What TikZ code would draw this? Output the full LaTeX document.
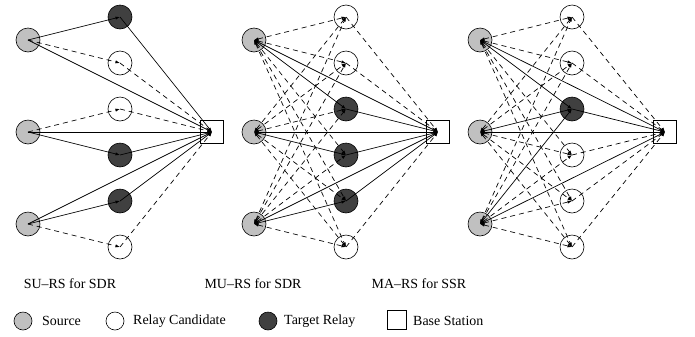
\documentclass[tikz,border=0pt]{standalone}
\usepackage{fontspec}
\setmainfont{Liberation Serif}
\usetikzlibrary{arrows.meta}
\definecolor{srcgray}{RGB}{192,192,192}
\definecolor{tgtgray}{RGB}{64,64,64}
\begin{document}
\begin{tikzpicture}[x=1bp,y=-1bp,
  font=\fontsize{14}{16}\selectfont,
  >={Latex[length=4.5bp,width=3.2bp]},
  nd/.style={circle,draw,line width=0.6bp,minimum size=24bp,inner sep=0pt},
  src/.style={nd,fill=srcgray},
  cand/.style={nd,fill=white},
  tgt/.style={nd,fill=tgtgray},
  bs/.style={rectangle,draw,line width=0.6bp,minimum size=23bp,inner sep=0pt,fill=white},
  sol/.style={line width=0.7bp},
  dsh/.style={line width=0.7bp,dash pattern=on 5bp off 4bp},
  lsrc/.style={circle,draw,line width=0.6bp,minimum size=18bp,inner sep=0pt,fill=srcgray},
  lcand/.style={circle,draw,line width=0.6bp,minimum size=18bp,inner sep=0pt,fill=white},
  ltgt/.style={circle,draw,line width=0.6bp,minimum size=18bp,inner sep=0pt,fill=tgtgray},
  lbs/.style={rectangle,draw,line width=0.6bp,minimum size=19bp,inner sep=0pt,fill=white},
  lbl/.style={anchor=west,inner sep=0pt}
]
\useasboundingbox (0,0) rectangle (695,336);
% ---------- nodes ----------
\foreach \p/\xs/\xb in {a/28/212, b/254/438, c/480/665} {
  \foreach \i/\y in {1/40,2/132,3/224} \node[src] (\p-s\i) at (\xs,\y) {};
  \node[bs] (\p-b) at (\xb,132) {};
}
\foreach \j/\y/\st in {1/17/tgt,2/63/cand,3/109/cand,4/155/tgt,5/201/tgt,6/247/cand}
  \node[\st] (a-r\j) at (120,\y) {};
\foreach \j/\y/\st in {1/17/cand,2/63/cand,3/109/tgt,4/155/tgt,5/201/tgt,6/247/cand}
  \node[\st] (b-r\j) at (346,\y) {};
\foreach \j/\y/\st in {1/17/cand,2/63/cand,3/109/tgt,4/155/cand,5/201/cand,6/247/cand}
  \node[\st] (c-r\j) at (572,\y) {};
% ---------- panel 1: SU-RS ----------
\foreach \u/\v/\st in {s1/r1/sol,r1/b/sol,s1/b/sol,s1/r2/dsh,r2/b/dsh,
                       s2/r3/dsh,r3/b/dsh,s2/b/sol,s2/r4/sol,r4/b/sol,
                       s3/b/sol,s3/r5/sol,r5/b/sol,s3/r6/dsh,r6/b/dsh}
  \draw[\st,->] (a-\u.center) -- (a-\v.center);
% ---------- panel 2: MU-RS ----------
\foreach \s in {1,2,3} {
  \foreach \r in {1,...,6} {
    \ifnum\r=\numexpr\s+2\relax \def\st{sol}\else\def\st{dsh}\fi
    \draw[\st,<->] (b-s\s.center) -- (b-r\r.center);
  }
  \draw[sol,<->] (b-b.center) -- (b-s\s.center);
}
\foreach \r/\st in {1/dsh,2/dsh,3/sol,4/sol,5/sol,6/dsh}
  \draw[\st,->] (b-r\r.center) -- (b-b.center);
% ---------- panel 3: MA-RS ----------
\foreach \s in {1,2,3} {
  \foreach \r in {1,...,6} {
    \ifnum\r=3 \def\st{sol}\else\def\st{dsh}\fi
    \draw[\st,<->] (c-s\s.center) -- (c-r\r.center);
  }
  \draw[sol,<->] (c-b.center) -- (c-s\s.center);
}
\foreach \r/\st in {1/dsh,2/dsh,3/sol,4/dsh,5/dsh,6/dsh}
  \draw[\st,->] (c-r\r.center) -- (c-b.center);
% ---------- captions ----------
\node (cap1) at (70,284) {SU–RS for SDR};
\node (cap2) at (253,284) {MU–RS for SDR};
\node (cap3) at (419,284) {MA–RS for SSR};
% ---------- legend ----------
\node[lsrc] (lg1) at (23,321) {};
\node[lbl] (lt1) at (42,321) {Source};
\node[lcand] (lg2) at (115,321) {};
\node[lbl] (lt2) at (133,321) {Relay Candidate};
\node[ltgt] (lg3) at (268,321) {};
\node[lbl] (lt3) at (284,321) {Target Relay};
\node[lbs] (lg4) at (397,320) {};
\node[lbl] (lt4) at (413,321) {Base Station};
\end{tikzpicture}
\end{document}
